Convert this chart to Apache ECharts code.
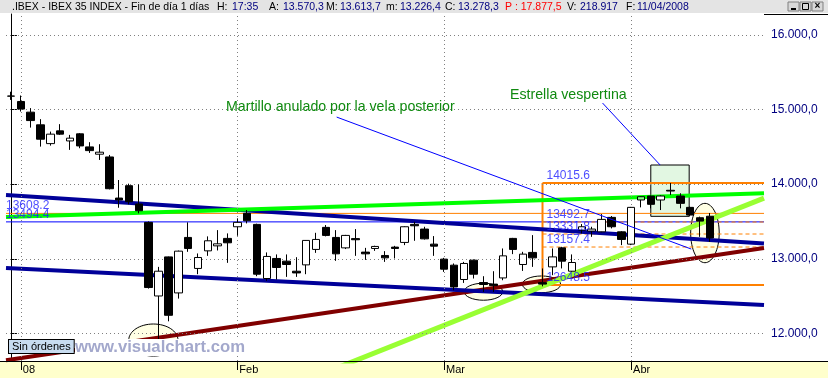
<!DOCTYPE html>
<html><head><meta charset="utf-8">
<script src="https://cdn.jsdelivr.net/npm/echarts@6/dist/echarts.min.js"></script>
<style>html,body{margin:0;padding:0;background:#fff}#c{width:828px;height:378px}</style>
</head><body><div id="c"></div>
<script>
// ---------- DATA ----------
const dates = [
 '2007-12-31',
 '2008-01-02','2008-01-03','2008-01-04','2008-01-07','2008-01-08','2008-01-09','2008-01-10','2008-01-11',
 '2008-01-14','2008-01-15','2008-01-16','2008-01-17','2008-01-18','2008-01-21','2008-01-22','2008-01-23',
 '2008-01-24','2008-01-25','2008-01-28','2008-01-29','2008-01-30','2008-01-31',
 '2008-02-01','2008-02-04','2008-02-05','2008-02-06','2008-02-07','2008-02-08','2008-02-11','2008-02-12',
 '2008-02-13','2008-02-14','2008-02-15','2008-02-18','2008-02-19','2008-02-20','2008-02-21','2008-02-22',
 '2008-02-25','2008-02-26','2008-02-27','2008-02-28','2008-02-29',
 '2008-03-03','2008-03-04','2008-03-05','2008-03-06','2008-03-07','2008-03-10','2008-03-11','2008-03-12',
 '2008-03-13','2008-03-14','2008-03-17','2008-03-18','2008-03-19','2008-03-20','2008-03-25','2008-03-26',
 '2008-03-27','2008-03-28','2008-03-31',
 '2008-04-01','2008-04-02','2008-04-03','2008-04-04','2008-04-07','2008-04-08','2008-04-09','2008-04-10','2008-04-11',
 '2008-04-14','2008-04-15','2008-04-16','2008-04-17','2008-04-18'
];
const openV = [15180,
 15109,14966,14796,14544,14715,14580,14675,14500,14402,14365,13814,13980,13734,13488,12501,13025,12542,13286,12870,13106,13173,13273,
 13429,13609,13461,12735,13004,12968,12833,12918,13125,13421,13286,13146,13270,13089,13138,13044,13156,13219,13461,13398,13196,
 12995,12914,12722,12981,12681,12660,12743,13273,12923,13085,12680,12891,13146,12833,13384,13371,13361,13555,13361,
 13196,13788,13841,13788,13918,13841,13689,13550,13570.3];
const highV = [15240,
 15189,15020,14872,14705,14805,14661,14685,14563,14536,14392,14056,14007,13998,13500,12891,13030,13110,13488,13071,13300,13384,13340,
 13542,13653,13470,13085,13058,13058,13021,13250,13348,13452,13384,13320,13398,13146,13175,13102,13173,13435,13496,13429,13304,
 13012,12937,12958,12990,12766,12833,13138,13280,13093,13317,12870,13138,13160,13058,13465,13429,13599,13573,13370,
 13695,13835,13850,13850,14015.6,13878,13700,13565,13613.7];
const lowV = [15130,
 14974,14759,14504,14517,14660,14460,14482,14419,14325,13930,13684,13730,13609,12600,11780,12161,12466,13093,12793,13039,13111,12945,
 13308,13474,12766,12703,12722,12757,12757,12793,13079,13300,12972,13130,13039,12985,13106,12958,13004,13183,13241,13258,13039,
 12824,12578,12676,12735,12555,12555,12712,13062,12837,12891,12630,12780,12870,12825,13340,13294,13355,13407,13183,
 13183,13689,13676,13653,13855,13676,13570,13294,13226.4];
const closeV = [15182,
 15007,14853,14603,14671,14671,14617,14513,14450,14429,13939,13788,13765,13644,12614,12833,12242,13102,13138,13017,13241,13200,13214,
 13488,13509,12793,13031,12883,12923,12810,13246,13259,13313,13066,13313,13255,13066,13165,13012,13138,13429,13442,13267,13169,
 12860,12622,12937,12793,12655,12640,13039,13125,13062,13012,12660,13025,12968,12950,13429,13398,13528,13429,13259,
 13689,13832,13730,13841,13908,13743,13586,13505,13278.3];

const monthTickDates = ['2008-01-02','2008-02-01','2008-03-03','2008-04-01'];
const monthTickLabels = ['08','Feb','Mar','Abr'];
const yTickValues = [12000,13000,14000,15000,16000];
const yMin = 11629, yMax = 16282;
const highlightDate = '2008-04-02';

// trend lines: start [index, value] and end [index, value]
const lineUpperBlue = [[-0.5,13855],[76.5,13206]];
const lineLowerBlue = [[-0.5,12876],[76.5,12380]];
const lineGreen     = [[-0.5,13560],[76.5,13877]];
const lineMaroon    = [[-0.5,11640],[76.5,13144]];
const lineYellowGreen = [[33,11530],[76.5,13814]];
const lineMartillo  = [[33.09,14900],[69.11,13130]];
const lineEstrella  = [[60.1,15088],[65.95,14257]];

// horizontal levels
const fullLevelValues = [13608.2, 13494.4];
const boxLevelValues = [14015.6, 13492.7, 13331.8, 13157.4, 12648.5];
const boxStartIndex = 54;

// ellipses: centre index, centre value, radius in index, radius in value
const ellCx = [14.47, 48.0, 53.9, 70.5];
const ellCy = [11910, 12558, 12657, 13345];
const ellRx = [2.5, 1.96, 1.94, 1.45];
const ellRy = [215, 114, 112, 398];

// green "estrella" box: [index, value] corners
const starBox = [[65.0,14257],[68.9,13569]];

// header texts
const headerKeys = ['H:','A:','M:','m:','C:','V:','F:'];
const headerVals = ['17:35','13.570,3','13.613,7','13.226,4','13.278,3','218.917','11/04/2008'];

// ---------- CHART ----------
const N = dates.length;
const fmt = v => { const s = v.toFixed(1).split('.'); return s[0].replace(/\B(?=(\d{3})+(?!\d))/g,'.') + ',' + s[1]; };
const isMonth = (i, val) => monthTickDates.indexOf(val) >= 0;

const candleData = openV.map((o,i) => {
  const d = [o, closeV[i], lowV[i], highV[i]];
  if (dates[i] === highlightDate) return {value: d, itemStyle: {color: '#88ff88'}};
  return d;
});

function seg(pts, color, width, z, type) {
  return {type:'line', xAxisIndex:1, yAxisIndex:0, data: pts, symbol:'none', silent:true, z: z,
    lineStyle:{color: color, width: width, type: type || 'solid', cap:'butt'}, animation:false};
}
const gridLineStyle = {color:'#808080', type:[1,3], width:1};

const series = [];
// grid lines (dotted)
series.push({type:'line', xAxisIndex:1, yAxisIndex:0, data:[], z:0, silent:true,
  markLine:{symbol:['none','none'], silent:true, animation:false, label:{show:false}, lineStyle: gridLineStyle,
    data: yTickValues.map(v => ({yAxis: v})).concat(monthTickDates.map(d => ({xAxis: dates.indexOf(d)})))}});
// ellipses
series.push({type:'custom', xAxisIndex:1, yAxisIndex:0, z:1, silent:true,
  data: ellCx.map((x,i)=>[x, ellCy[i], ellRx[i], ellRy[i]]),
  renderItem: (p, api) => {
    const c = api.coord([api.value(0), api.value(1)]);
    const s = api.size([api.value(2), api.value(3)]);
    return {type:'ellipse', shape:{cx:c[0], cy:c[1], rx:s[0], ry:s[1]}, style:{fill:'#ffffe4', stroke:'#000', lineWidth:1}};
  }});
// green box
series.push({type:'line', xAxisIndex:1, yAxisIndex:0, data:[], z:1, silent:true,
  markArea:{silent:true, itemStyle:{color:'#e2f7e2', borderColor:'#000', borderWidth:1},
    data:[[{coord: starBox[0]}, {coord: starBox[1]}]]}});
// full-width thin levels
series.push(seg([[-0.5, fullLevelValues[0]],[76.5, fullLevelValues[0]]], '#ff8000', 1, 2));
series.push(seg([[-0.5, fullLevelValues[1]],[76.5, fullLevelValues[1]]], '#0000ff', 1, 2));
// box levels
boxLevelValues.forEach((v,i) => {
  const solid = (i === 0 || i === boxLevelValues.length-1);
  series.push(seg([[boxStartIndex, v],[76.5, v]], '#ff8000', solid ? 2 : 1, 3, solid ? 'solid' : [4,3]));
});
series.push(seg([[boxStartIndex, boxLevelValues[boxLevelValues.length-1]],[boxStartIndex, boxLevelValues[0]]], '#ff8000', 2, 3));
// trend lines
series.push(seg(lineMaroon, '#800000', 4, 3));
series.push(seg(lineLowerBlue, '#000099', 4, 3));
series.push(seg(lineUpperBlue, '#000099', 4, 3));
series.push(seg(lineGreen, '#00ff00', 4, 3));
series.push(seg(lineYellowGreen, '#99ff33', 5, 3));
// candles
series.push({type:'candlestick', xAxisIndex:0, yAxisIndex:0, z:5, barWidth:8, silent:true,
  itemStyle:{color:'#ffffff', color0:'#000000', borderColor:'#000000', borderColor0:'#000000', borderWidth:1},
  data: candleData,
  markLine:{symbol:['none','none'], silent:true, animation:false, lineStyle:{opacity:0},
    data:[{yAxis: closeV[closeV.length-1]}],
    label:{position:'end', distance:1, formatter: p => '{a|<}{b|' + fmt(p.value) + '}',
      rich:{a:{fontSize:9, color:'#000', fontFamily:'Arial', padding:[0,2,0,0]},
            b:{fontSize:12, fontFamily:'Arial', color:'#000033', backgroundColor:'#ffffc0', borderColor:'#000', borderWidth:1, padding:[2,2,1,2]}}}}
});
// annotation lines
series.push(seg(lineMartillo, '#0000ff', 1, 6));
series.push(seg(lineEstrella, '#0000ff', 1, 6));
// level labels
const labelPts = fullLevelValues.map(v => ({value:[-0.5, v, v.toFixed(1)], label:{offset:[0,0]}}))
  .concat(boxLevelValues.map(v => ({value:[boxStartIndex, v, v.toFixed(1)], label:{offset:[4,0]}})));
series.push({type:'scatter', xAxisIndex:1, yAxisIndex:0, z:7, silent:true, symbolSize:1,
  itemStyle:{color:'rgba(0,0,0,0)'},
  data: labelPts,
  label:{show:true, position:'top', align:'left', distance:1, formatter: p => p.value[2],
    color:'#2020ff', fontSize:12, fontFamily:'Arial'}});

// header graphic texts
const hdrFont = '10.5px Arial';
const keyX = [217, 269, 326, 386, 445, 567, 626];
const valX = [232, 283, 340, 400, 458, 580, 637];
const headerTexts = [{type:'text', z:101, silent:true, x:12, y:7, style:{text:'.IBEX - IBEX 35 INDEX - Fin de día 1 días', font:hdrFont, fill:'#000', verticalAlign:'middle'}},
  {type:'text', z:101, silent:true, x:505, y:7, style:{text:'P : 17.877,5', font:hdrFont, fill:'#ff0000', verticalAlign:'middle'}}];
headerKeys.forEach((k,i) => {
  headerTexts.push({type:'text', z:101, silent:true, x:keyX[i], y:7, style:{text:k, font:hdrFont, fill:'#000', verticalAlign:'middle'}});
  headerTexts.push({type:'text', z:101, silent:true, x:valX[i], y:7, style:{text:headerVals[i], font:hdrFont, fill:'#000080', verticalAlign:'middle'}});
});

const option = {
  animation:false,
  backgroundColor:'#ffffff',
  grid:{left:6, right:64, top:14, bottom:17, containLabel:false},
  xAxis:[{
    type:'category', data: dates, boundaryGap:true,
    axisLine:{show:true, lineStyle:{color:'#000', width:1}},
    axisTick:{show:true, interval:isMonth, alignWithLabel:true, length:9, lineStyle:{color:'#000'}},
    axisLabel:{interval:isMonth, formatter: v => monthTickLabels[monthTickDates.indexOf(v)] || '',
      align:'left', margin:3, padding:[0,0,0,2], color:'#000', fontSize:11, fontFamily:'Arial'},
    splitLine:{show:false}
  },{
    type:'value', min:-0.5, max:N-0.5, show:false
  }],
  yAxis:[{
    type:'value', position:'right', min:yMin, max:yMax, scale:true,
    axisLine:{show:true, lineStyle:{color:'#000'}},
    axisTick:{show:true, customValues: yTickValues, length:6, lineStyle:{color:'#000'}},
    axisLabel:{customValues: yTickValues, formatter: v => fmt(v), color:'#000080', fontSize:12, fontFamily:'Arial', margin:7},
    splitLine:{show:false}
  }],
  series: series,
  graphic:[
    {type:'rect', z:-10, silent:true, shape:{x:0,y:361,width:828,height:17}, style:{fill:'#ffffcc'}},
    {type:'line', z:100, silent:true, shape:{x1:0,y1:361.5,x2:828,y2:361.5}, style:{stroke:'#000', lineWidth:1}},
    {type:'line', z:100, silent:true, shape:{x1:764,y1:14.5,x2:828,y2:14.5}, style:{stroke:'#000', lineWidth:1}},
    {type:'rect', z:100, silent:true, shape:{x:0,y:0,width:828,height:13}, style:{fill:'#e4e4e4'}},
    {type:'rect', z:101, silent:true, shape:{x:788,y:2,width:11,height:9}, style:{fill:'#d8d8d8', stroke:'#808080'}},
    {type:'rect', z:101, silent:true, shape:{x:800,y:2,width:11,height:9}, style:{fill:'#d8d8d8', stroke:'#808080'}},
    {type:'rect', z:101, silent:true, shape:{x:812,y:2,width:11,height:9}, style:{fill:'#d8d8d8', stroke:'#808080'}},
    {type:'line', z:102, silent:true, shape:{x1:791,y1:9,x2:796,y2:9}, style:{stroke:'#000', lineWidth:2}},
    {type:'rect', z:102, silent:true, shape:{x:802.5,y:3.5,width:6,height:6}, style:{fill:'none', stroke:'#000', lineWidth:1}},
    {type:'text', z:102, silent:true, x:817.5, y:6.5, style:{text:'×', font:'bold 10px Arial', fill:'#000', align:'center', verticalAlign:'middle'}},
    {type:'text', z:100, silent:true, x:226, y:107, style:{text:'Martillo anulado por la vela posterior', font:'14.2px Arial', fill:'#108a10', verticalAlign:'middle'}},
    {type:'text', z:100, silent:true, x:510, y:95, style:{text:'Estrella vespertina', font:'14.2px Arial', fill:'#108a10', verticalAlign:'middle'}},
    {type:'text', z:100, silent:true, x:75, y:339, style:{text:'www.visualchart.com', font:'bold 16.7px Arial', fill:'#a3a8cc', backgroundColor:'#ffffff', verticalAlign:'top'}},
    {type:'text', z:101, silent:true, x:9, y:340, style:{text:'Sin órdenes', font:'11px Arial', fill:'#000', backgroundColor:'#c8dcf0', borderColor:'#000', borderWidth:1, padding:[1,3,1,3], verticalAlign:'top'}}
  ].concat(headerTexts)
};
const chart = echarts.init(document.getElementById('c'));
chart.setOption(option);
</script>
</body></html>
